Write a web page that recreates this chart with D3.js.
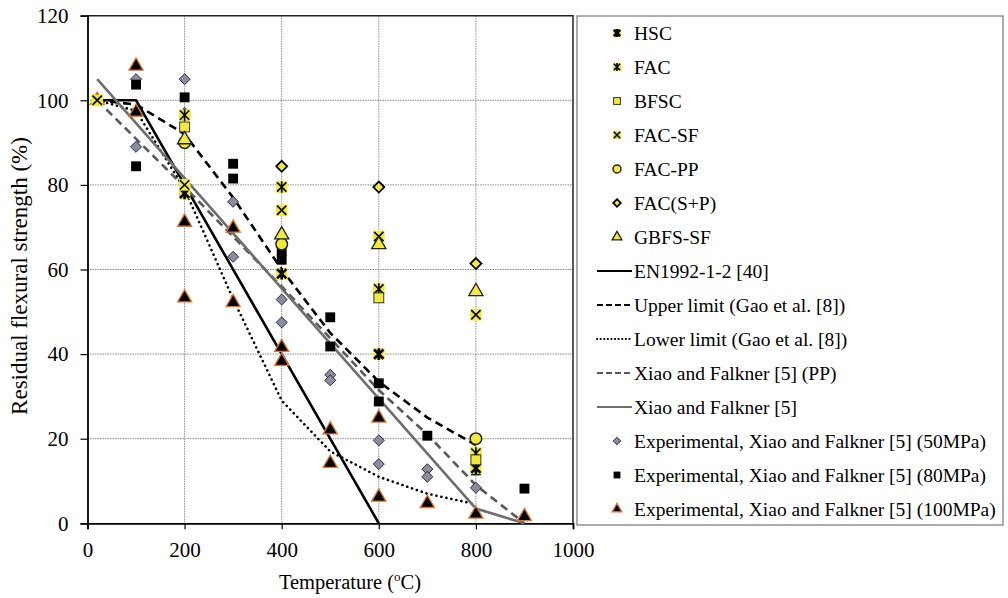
<!DOCTYPE html>
<html lang="en">
<head>
    <meta charset="utf-8">
    <title>Residual flexural strength</title>
    <style>
        body { margin: 0; background: #fff; }
        text { font-family: "Liberation Serif", "Times New Roman", serif; fill: #000; }
    </style>
</head>
<body>
    <svg width="1008" height="598"></svg>
    <script src="https://cdn.jsdelivr.net/npm/d3@7"></script>
    <script>
        // axis ticks
        const xTicks = [0, 200, 400, 600, 800, 1000];
        const yTicks = [0, 20, 40, 60, 80, 100, 120];

        // point series [temperature, %]
        const hsc = [[20, 100], [200, 78], [400, 59], [600, 40], [800, 13]];
        const fac = [[200, 96.5], [400, 79.5], [600, 55.4], [800, 16.6]];
        const bfsc = [[200, 93.7], [600, 53.3], [800, 15]];
        const facSf = [[20, 100], [200, 80], [400, 74], [600, 67.8], [800, 49.3]];
        const facPp = [[200, 90], [400, 66], [800, 20]];
        const facSp = [[400, 84.4], [600, 79.5], [800, 61.4]];
        const gbfsSf = [[200, 90.7], [400, 68.2], [600, 65.9], [800, 54.8]];

        const exp50 = [[20, 100], [100, 105], [100, 89], [200, 105], [200, 97], [300, 76], [300, 63],
            [400, 52.9], [400, 47.5], [500, 35.1], [500, 33.8], [600, 19.6], [600, 14],
            [700, 12.8], [700, 11], [800, 8.4]];
        const exp80 = [[20, 100], [100, 103.7], [100, 84.4], [200, 100.7], [200, 96.4], [300, 85], [300, 81.5],
            [400, 64.3], [400, 62.3], [500, 48.7], [500, 41.8], [600, 33.1], [600, 28.8],
            [700, 20.7], [800, 12.5], [900, 8.2]];
        const exp100 = [[20, 100], [100, 108.1], [100, 97.2], [200, 71.2], [200, 53.3], [300, 69.8], [300, 52.2],
            [400, 41.6], [400, 38.3], [500, 22.1], [500, 14.2], [600, 24.9], [600, 6.2],
            [700, 4.7], [800, 2.2], [900, 1.6]];

        // curves
        const en1992 = [[20, 100], [100, 100], [600, 0]];
        const upperGao = [[20, 100], [100, 99], [200, 92], [300, 77], [400, 60], [500, 45], [600, 33.5], [700, 25], [800, 18.5]];
        const lowerGao = [[20, 100], [100, 97.5], [200, 79], [300, 53], [400, 29], [500, 17], [600, 11], [700, 7], [800, 4.5]];
        const xiaoPP = [[20, 100], [200, 79.5], [400, 56], [600, 31.5], [700, 21], [800, 9], [900, 0]];
        const xiao = [[20, 105], [800, 3.5], [900, 0]];

        const svg = d3.select("svg");
        const x = d3.scaleLinear().domain([0, 1000]).range([87.5, 573]);
        const y = d3.scaleLinear().domain([0, 120]).range([523.3, 15.7]);

        // grid
        const grid = svg.append("g").attr("stroke", "#8a8a8a").attr("stroke-width", 1).attr("stroke-dasharray", "1.5,1");
        grid.selectAll(".gx").data(xTicks.filter(d => d > 0 && d < 1000)).join("line")
            .attr("x1", d => x(d)).attr("x2", d => x(d)).attr("y1", y(120)).attr("y2", y(0));
        grid.selectAll(".gy").data(yTicks.filter(d => d > 0 && d < 120)).join("line")
            .attr("x1", x(0)).attr("x2", x(1000)).attr("y1", d => y(d)).attr("y2", d => y(d));

        // plot frame (top/right)
        svg.append("path")
            .attr("d", `M${x(0)},${y(120)}H${x(1000)}V${y(0)}`)
            .attr("fill", "none").attr("stroke", "#222").attr("stroke-width", 1.5);

        // axes
        const xAxis = svg.append("g").attr("transform", `translate(0,${y(0)})`)
            .call(d3.axisBottom(x).tickValues(xTicks).tickFormat(d3.format("d")).tickSize(6).tickPadding(13));
        const yAxis = svg.append("g").attr("transform", `translate(${x(0)},0)`)
            .call(d3.axisLeft(y).tickValues(yTicks).tickSize(7).tickPadding(12));
        [xAxis, yAxis].forEach(a => {
            a.select(".domain").attr("stroke", "#000").attr("stroke-width", 1.8);
            a.selectAll(".tick line").attr("stroke", "#000").attr("stroke-width", 1.2);
            a.selectAll("text").style("font-family", "'Liberation Serif', serif").style("font-size", "21px").attr("fill", "#000");
        });

        // axis titles
        svg.append("text")
            .attr("transform", "translate(27,276) rotate(-90)")
            .attr("text-anchor", "middle").style("font-size", "23px")
            .text("Residual flexural strength (%)");
        const xt = svg.append("text")
            .attr("x", 350).attr("y", 589).attr("text-anchor", "middle").style("font-size", "20.5px");
        xt.append("tspan").text("Temperature (");
        xt.append("tspan").attr("dy", -8).style("font-size", "13px").text("o");
        xt.append("tspan").attr("dy", 8).text("C)");

        // curves
        const line = d3.line().x(d => x(d[0])).y(d => y(d[1]));
        const curves = [
            { name: "EN1992-1-2 [40]", data: en1992, color: "#000", dash: null, cap: "butt" },
            { name: "Upper limit (Gao et al. [8])", data: upperGao, color: "#000", dash: "8,5", cap: "butt" },
            { name: "Lower limit (Gao et al. [8])", data: lowerGao, color: "#000", dash: "0.1,5", cap: "round" },
            { name: "Xiao and Falkner [5] (PP)", data: xiaoPP, color: "#595959", dash: "8,5", cap: "butt" },
            { name: "Xiao and Falkner [5]", data: xiao, color: "#6e6e6e", dash: null, cap: "butt" }
        ];
        svg.append("g").selectAll("path").data(curves).join("path")
            .attr("d", d => line(d.data))
            .attr("fill", "none")
            .attr("stroke", d => d.color)
            .attr("stroke-width", 2.6)
            .attr("stroke-linecap", d => d.cap)
            .attr("stroke-dasharray", d => d.dash);

        // marker drawing
        function drawMarker(g, kind, s) {
            if (kind === "star" || kind === "starBold" || kind === "x") {
                g.append("rect").attr("x", -s).attr("y", -s).attr("width", 2 * s).attr("height", 2 * s)
                    .attr("fill", "#f2ea3a");
                let p = `M${-s * 0.8},${-s * 0.8}L${s * 0.8},${s * 0.8}M${-s * 0.8},${s * 0.8}L${s * 0.8},${-s * 0.8}`;
                if (kind !== "x") p += `M0,${-s}L0,${s}`;
                g.append("path").attr("d", p).attr("stroke", "#000").attr("fill", "none")
                    .attr("stroke-width", kind === "starBold" ? 2.6 : 1.6);
            } else if (kind === "square") {
                g.append("rect").attr("x", -s * 0.85).attr("y", -s * 0.85).attr("width", 1.7 * s).attr("height", 1.7 * s)
                    .attr("fill", "#f2ea3a").attr("stroke", "#333").attr("stroke-width", 1);
            } else if (kind === "circle") {
                g.append("circle").attr("r", s).attr("fill", "#f2ea3a").attr("stroke", "#222").attr("stroke-width", 1.5);
            } else if (kind === "ydiamond") {
                g.append("path").attr("d", d3.symbol(d3.symbolDiamond2, s * s * 2.3)())
                    .attr("fill", "#f2ea3a").attr("stroke", "#000").attr("stroke-width", 1.8);
            } else if (kind === "ytriangle") {
                g.append("path").attr("d", d3.symbol(d3.symbolTriangle, s * s * 2.6)())
                    .attr("fill", "#f2ea3a").attr("stroke", "#222").attr("stroke-width", 1.3);
            } else if (kind === "gdiamond") {
                g.append("path").attr("d", d3.symbol(d3.symbolDiamond2, s * s * 2.3)())
                    .attr("fill", "#8c8c9a").attr("stroke", "#2a2a50").attr("stroke-width", 1);
            } else if (kind === "bsquare") {
                g.append("rect").attr("x", -s * 0.85).attr("y", -s * 0.85).attr("width", 1.7 * s).attr("height", 1.7 * s)
                    .attr("fill", "#000");
            } else if (kind === "btriangle") {
                g.append("path").attr("d", d3.symbol(d3.symbolTriangle, s * s * 2.6)())
                    .attr("fill", "#000").attr("stroke", "#e0792b").attr("stroke-width", 1.3);
            }
        }

        const pointSeries = [
            { name: "HSC", data: hsc, kind: "starBold" },
            { name: "FAC", data: fac, kind: "star" },
            { name: "BFSC", data: bfsc, kind: "square" },
            { name: "FAC-SF", data: facSf, kind: "x" },
            { name: "FAC-PP", data: facPp, kind: "circle" },
            { name: "FAC(S+P)", data: facSp, kind: "ydiamond" },
            { name: "GBFS-SF", data: gbfsSf, kind: "ytriangle" }
        ];
        const expSeries = [
            { name: "Experimental, Xiao and Falkner [5] (50MPa)", data: exp50, kind: "gdiamond" },
            { name: "Experimental, Xiao and Falkner [5] (80MPa)", data: exp80, kind: "bsquare" },
            { name: "Experimental, Xiao and Falkner [5] (100MPa)", data: exp100, kind: "btriangle" }
        ];

        const pts = svg.append("g");
        expSeries.concat(pointSeries).forEach(s => {
            s.data.forEach(d => {
                const g = pts.append("g").attr("transform", `translate(${x(d[0])},${y(d[1])})`);
                drawMarker(g, s.kind, 5.8);
            });
        });

        // legend
        svg.append("rect").attr("x", 577).attr("y", 16).attr("width", 426).attr("height", 509)
            .attr("fill", "none").attr("stroke", "#777").attr("stroke-width", 1.2);
        const legendItems = pointSeries.map(s => ({ type: "pt", ...s }))
            .concat(curves.map(c => ({ type: "line", ...c })))
            .concat(expSeries.map(s => ({ type: "pt", ...s })));
        const leg = svg.append("g");
        legendItems.forEach((it, i) => {
            const ly = 33 + i * 34;
            if (it.type === "pt") {
                const g = leg.append("g").attr("transform", `translate(617,${ly})`);
                drawMarker(g, it.kind, 4);
            } else {
                leg.append("line").attr("x1", 597).attr("x2", 632).attr("y1", ly).attr("y2", ly)
                    .attr("stroke", it.color).attr("stroke-width", 2.2)
                    .attr("stroke-linecap", it.cap)
                    .attr("stroke-dasharray", it.dash === "8,5" ? "6,3" : (it.dash ? "0.1,3.5" : null));
            }
            leg.append("text").attr("x", 634).attr("y", ly).attr("dy", "0.35em")
                .style("font-size", "19.5px").text(it.name);
        });
    </script>
</body>
</html>
